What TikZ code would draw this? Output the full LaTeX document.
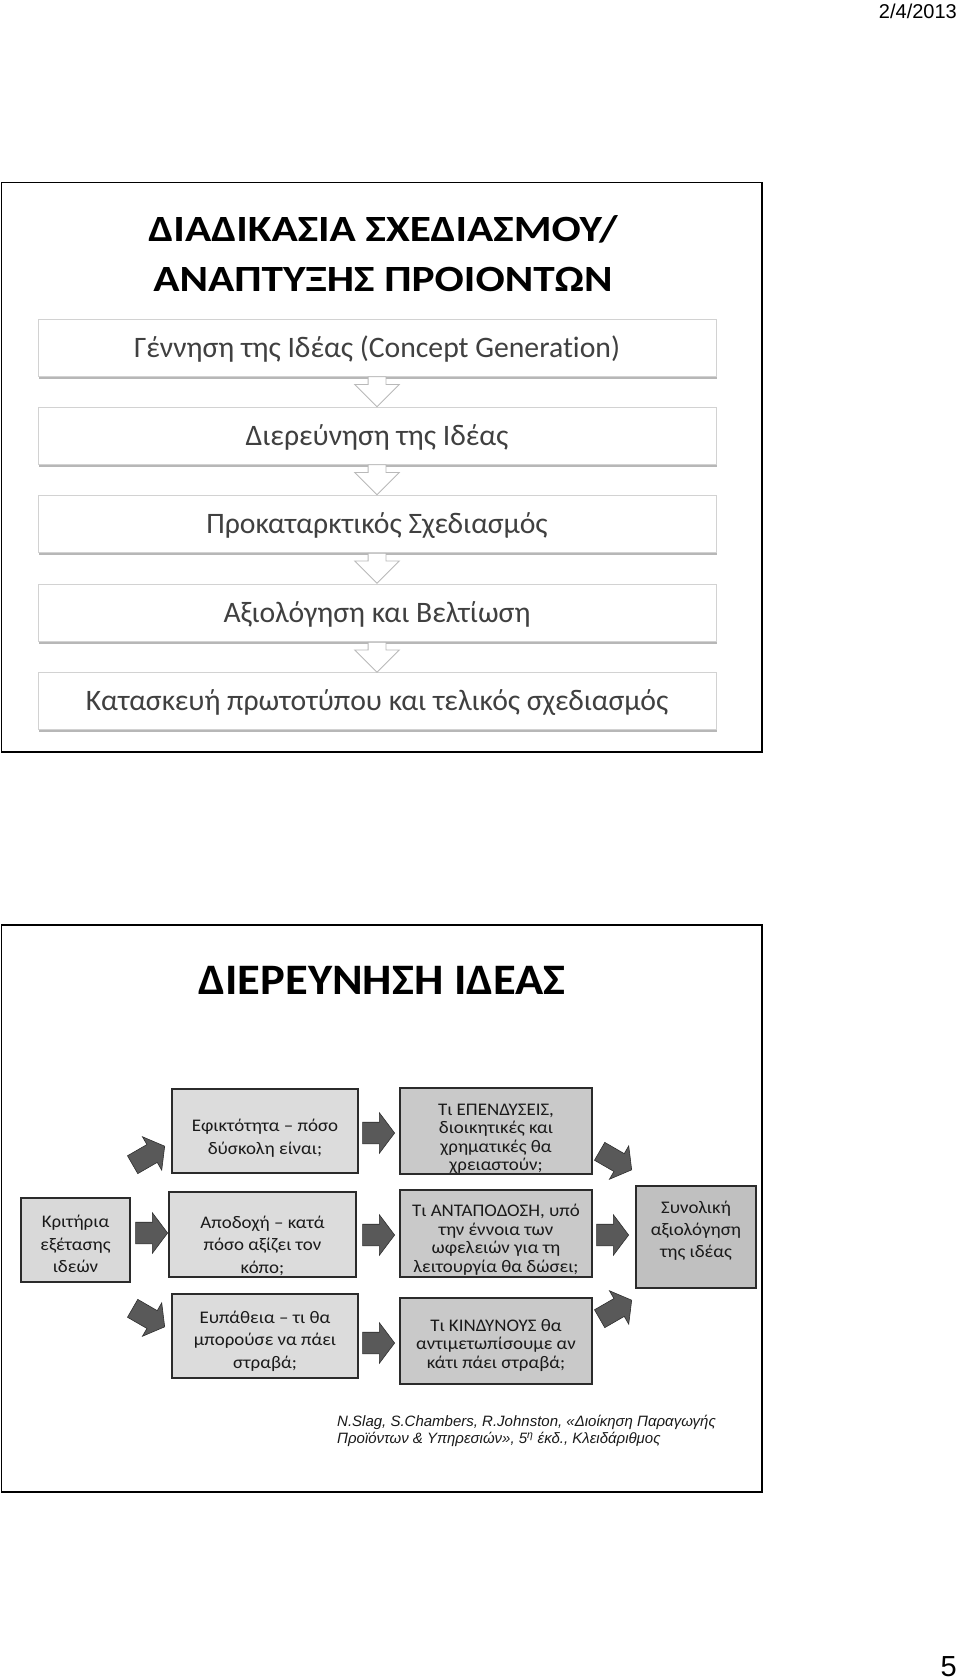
\documentclass[tikz,border=0pt]{standalone}
\usepackage{fontspec}
\setmainfont{Carlito}[Ligatures=CommonOff]
\newfontfamily\titleonefont{Carlito}[FakeStretch=1.17, Ligatures=CommonOff]
\newfontfamily\slidetwofont{Carlito}[FakeStretch=1.07, Ligatures=CommonOff]
\newfontfamily\arialf{Liberation Sans}
\usetikzlibrary{shapes.arrows,shadows,calc}
\definecolor{toptext}{HTML}{404040}
\definecolor{lightbox}{HTML}{DCDCDC}
\definecolor{leftbox}{HTML}{D9D9D9}
\definecolor{midbox}{HTML}{C9C9C9}
\definecolor{sumbox}{HTML}{C0C0C0}
\definecolor{arrowfill}{HTML}{595959}
\definecolor{arrowdraw}{HTML}{2E2E2E}
\definecolor{boxline}{HTML}{2B2B2B}
\definecolor{boxtext}{HTML}{1A1A1A}
\tikzset{
  frame/.style={draw=black, line width=1.6pt},
  titlefont/.style={font=\titleonefont\bfseries\fontsize{37}{37}\selectfont, inner sep=0pt, text=black},
  titlefontb/.style={font=\slidetwofont\bfseries\fontsize{43.5}{43.5}\selectfont, inner sep=0pt, text=black},
  stepbox/.style={draw=gray!35, line width=0.8pt, fill=white, minimum width=678pt, minimum height=57pt,
     inner sep=0pt, text height=19.5pt, text depth=0pt,
     font=\fontsize{29.7}{34}\selectfont, text=toptext,
     drop shadow={shadow xshift=1pt, shadow yshift=-2.5pt, fill=gray!70, opacity=0.8}},
  hollowarrow/.style={single arrow, draw=gray!55, fill=white, line width=0.8pt,
     minimum height=30pt, minimum width=0pt, inner xsep=0pt, inner ysep=8.5pt,
     single arrow head extend=13.5pt, single arrow tip angle=90, anchor=tail, rotate=-90},
  critbox/.style={draw=boxline, line width=1.2pt, inner sep=0pt},
  lbox/.style={critbox, fill=lightbox},
  mbox/.style={critbox, fill=midbox},
  sbox/.style={critbox, fill=sumbox},
  ctext/.style={inner sep=0pt, align=center, text=boxtext},
  ltext/.style={ctext, font=\slidetwofont\fontsize{17.7}{22.5}\selectfont},
  mtext/.style={ctext, font=\slidetwofont\fontsize{17.7}{18.5}\selectfont},
  stext/.style={ctext, font=\slidetwofont\fontsize{17.7}{22}\selectfont},
  blockarrow/.style={single arrow, fill=arrowfill, draw=arrowdraw, line width=0.6pt,
     minimum height=32pt, minimum width=0pt, inner xsep=0pt, inner ysep=10.5pt,
     single arrow head extend=9.5pt, single arrow tip angle=106, anchor=tip},
  diagarrow/.style={blockarrow, minimum height=37pt, inner ysep=10pt, single arrow head extend=9pt}
}
\begin{document}
\begin{tikzpicture}[x=1pt,y=-1pt]
\useasboundingbox (0,0) rectangle (960,1680);
\fill[white] (0,0) rectangle (960,1680);

% header and page number
\node[anchor=base east, font=\arialf\fontsize{20}{20}\selectfont, inner sep=0pt] (date) at (957,19) {2/4/2013};
\node[anchor=base east, font=\arialf\fontsize{29}{29}\selectfont, inner sep=0pt] (page) at (957,1676) {5};

% ---------- frame 1 ----------
\draw[frame] (1.5,182.5) rectangle (762,752);
\node[titlefont, anchor=base] (t1a) at (383,242) {ΔΙΑΔΙΚΑΣΙΑ ΣΧΕΔΙΑΣΜΟΥ/};
\node[titlefont, anchor=base] (t1b) at (383,291) {ΑΝΑΠΤΥΞΗΣ ΠΡΟΙΟΝΤΩΝ};

\node[stepbox] (s1) at (377,347.5) {Γέννηση της Ιδέας (Concept Generation)};
\node[stepbox] (s2) at (377,435.5) {Διερεύνηση της Ιδέας};
\node[stepbox] (s3) at (377,524) {Προκαταρκτικός Σχεδιασμός};
\node[stepbox] (s4) at (377,613) {Αξιολόγηση και Βελτίωση};
\node[stepbox] (s5) at (377,701) {Κατασκευή πρωτοτύπου και τελικός σχεδιασμός};

\node[hollowarrow] (h1) at (s1.south) {};
\node[hollowarrow] (h2) at (s2.south) {};
\node[hollowarrow] (h3) at (s3.south) {};
\node[hollowarrow] (h4) at (s4.south) {};

% ---------- frame 2 ----------
\draw[frame] (1.5,925) rectangle (762,1492);
\node[titlefontb, anchor=base] (t2) at (382,994) {ΔΙΕΡΕΥΝΗΣΗ ΙΔΕΑΣ};

\node[lbox, fill=leftbox, minimum width=109pt, minimum height=84pt] (krit) at (75.5,1240) {};
\node[ltext] (kritT) at ($(krit)+(0,4)$) {Κριτήρια\\εξέτασης\\ιδεών};
\node[lbox, minimum width=186pt, minimum height=84pt] (efik) at (265,1131) {};
\node[ltext] (efikT) at ($(efik)+(0,7)$) {Εφικτότητα – πόσο\\δύσκολη είναι;};
\node[lbox, minimum width=187pt, minimum height=85pt] (apod) at (262.5,1234.5) {};
\node[ltext] (apodT) at ($(apod)+(0,11)$) {Αποδοχή – κατά\\πόσο αξίζει τον\\κόπο;};
\node[lbox, minimum width=186pt, minimum height=84pt] (eupa) at (265,1336) {};
\node[ltext] (eupaT) at ($(eupa)+(0,5)$) {Ευπάθεια – τι θα\\μπορούσε να πάει\\στραβά;};

\node[mbox, minimum width=192pt, minimum height=86pt] (epen) at (496,1131) {};
\node[mtext] (epenT) at ($(epen)+(0,8)$) {Τι ΕΠΕΝΔΥΣΕΙΣ,\\διοικητικές και\\χρηματικές θα\\χρειαστούν;};
\node[mbox, minimum width=192pt, minimum height=87pt] (anta) at (496,1233.5) {};
\node[mtext] (antaT) at ($(anta)+(0,6)$) {Τι ΑΝΤΑΠΟΔΟΣΗ, υπό\\την έννοια των\\ωφελειών για τη\\λειτουργία θα δώσει;};
\node[mbox, minimum width=192pt, minimum height=86pt] (kind) at (496,1341) {};
\node[mtext] (kindT) at ($(kind)+(0,4)$) {Τι ΚΙΝΔΥΝΟΥΣ θα\\αντιμετωπίσουμε αν\\κάτι πάει στραβά;};

\node[sbox, minimum width=120pt, minimum height=102pt] (syn) at (696,1237) {};
\node[stext] (synT) at ($(syn)+(0,-6)$) {Συνολική\\αξιολόγηση\\της ιδέας};

% block arrows
\node[blockarrow] (ka) at (168,1233) {};
\node[diagarrow, rotate=30] (ke) at (165,1146) {};
\node[diagarrow, rotate=-30] (ku) at (165,1327) {};
\node[blockarrow] (ea) at (395,1133) {};
\node[blockarrow] (aa) at (395,1235) {};
\node[blockarrow] (ua) at (395,1343) {};
\node[diagarrow, rotate=-30] (es) at (632,1170) {};
\node[blockarrow] (as) at (629,1235) {};
\node[diagarrow, rotate=30] (ks) at (632,1300) {};

% citation
\node[anchor=north west, align=left, inner sep=0pt, font=\arialf\itshape\fontsize{15}{17}\selectfont, text=boxtext] (cite) at (337,1415)
  {N.Slag, S.Chambers, R.Johnston, «Διοίκηση Παραγωγής\\Προϊόντων \& Υπηρεσιών», 5\textsuperscript{η} έκδ., Κλειδάριθμος};
\end{tikzpicture}
\end{document}
